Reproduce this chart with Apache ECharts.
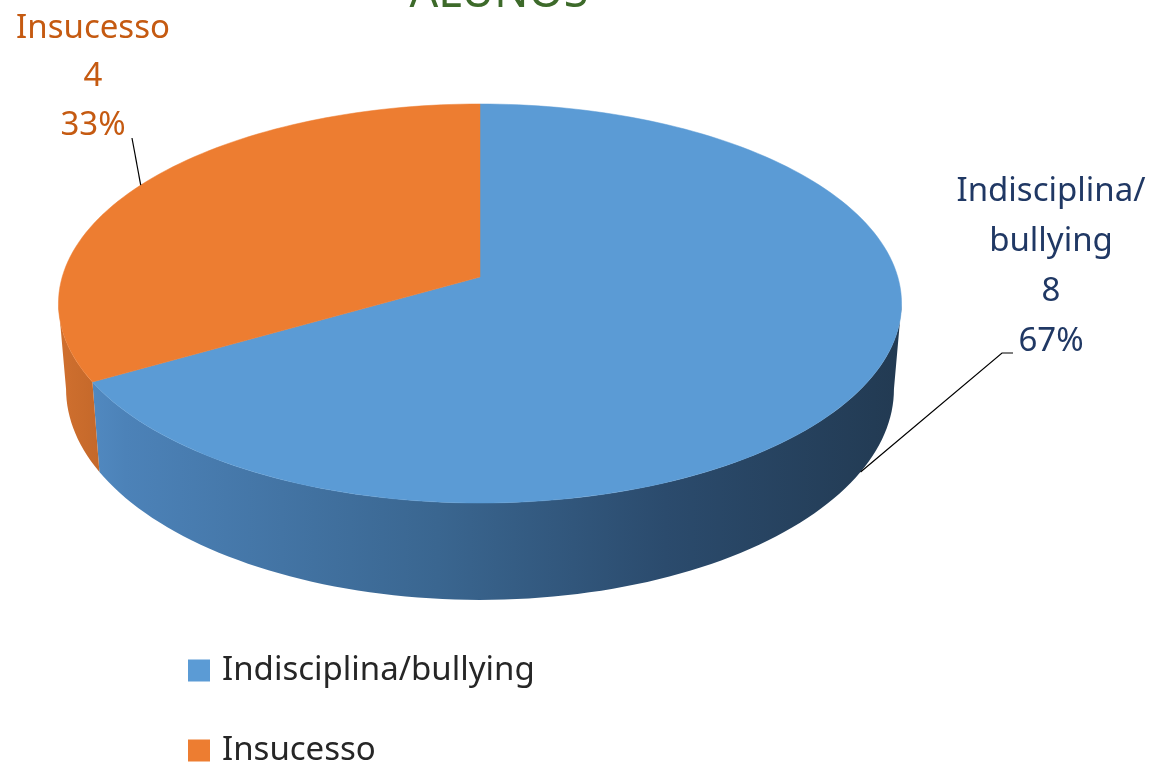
<!DOCTYPE html>
<html>
<head>
<meta charset="utf-8">
<script src="https://cdn.jsdelivr.net/npm/echarts@6/dist/echarts.min.js"></script>
<style>html,body{margin:0;padding:0;background:#fff}#chart{width:1156px;height:764px}</style>
</head>
<body>
<div id="chart"></div>
<script>
// ---- data ----
const categories = ['Indisciplina/bullying', 'Insucesso'];
const values = [8, 4];
const labelNames = ['Indisciplina/\nbullying', 'Insucesso'];
const titleText = 'ALUNOS';

// ---- style / layout ----
const topColors = ['#5B9BD5', '#ED7D31'];
const labelColors = ['#203864', '#C55A11'];
const FONT = '"Noto Sans", sans-serif';
// perspective pie: centre, horizontal/vertical radius, perspective factor, wall height
const geo = { cx: 480, cy: 277, A: 417.8, B: 196, p: 0.1328, depth: 84, bottomScale: 0.982, startAngle: 90 };
const labelLayout = [
  { x: 1051, y: 167, lh: 50, elbow: [[1013, 353], [1002, 353]], onBottom: true },
  { x: 93, y: 4, lh: 48.5, elbow: [[132, 138]], onBottom: false }
];
const sideFills = [
  { type: 'linear', global: true, x: 58, y: 0, x2: 901, y2: 0,
    colorStops: [
      { offset: 0, color: '#5690c8' }, { offset: 0.08, color: '#4c82b8' },
      { offset: 0.45, color: '#3a6690' }, { offset: 0.72, color: '#2b4b6d' },
      { offset: 1, color: '#223a52' } ] },
  { type: 'linear', global: true, x: 58, y: 0, x2: 100, y2: 0,
    colorStops: [ { offset: 0, color: '#d0702f' }, { offset: 1, color: '#c4682a' } ] }
];

const total = values.reduce((a, b) => a + b, 0);
function pt(deg, bottom) {
  const r = deg * Math.PI / 180;
  const X = Math.cos(r), Z = Math.sin(r);
  const w = 1 + geo.p * Z;
  let x = geo.cx + geo.A * X / w;
  let y = geo.cy - geo.B * Z / w;
  if (bottom) { x = geo.cx + (x - geo.cx) * geo.bottomScale; y += geo.depth / w; }
  return [x, y];
}
function arc(a0, a1, bottom) {
  const n = Math.max(2, Math.ceil(Math.abs(a1 - a0) / 1.5));
  const out = [];
  for (let k = 0; k <= n; k++) out.push(pt(a0 + (a1 - a0) * k / n, bottom));
  return out;
}
function sliceAngles(i) {
  let cum = 0;
  for (let k = 0; k < i; k++) cum += values[k];
  const a0 = geo.startAngle - 360 * cum / total;
  const a1 = geo.startAngle - 360 * (cum + values[i]) / total;
  return [a1, a0]; // lo, hi
}
const alpha = Math.asin(geo.p) * 180 / Math.PI;

function renderSlice(i) {
  const [lo, hi] = sliceAngles(i);
  const children = [];
  // visible wall (front part of the rim)
  for (let k = -2; k <= 1; k++) {
    const fLo = -180 + alpha + 360 * k, fHi = -alpha + 360 * k;
    const s = Math.max(lo, fLo), e = Math.min(hi, fHi);
    if (e > s) {
      const topArc = arc(s, e, false);
      const botArc = arc(e, s, true);
      children.push({ type: 'polygon', z2: 1, shape: { points: topArc.concat(botArc) },
        style: { fill: sideFills[i], stroke: null } });
    }
  }
  // top face
  const topPts = [[geo.cx, geo.cy]].concat(arc(hi, lo, false));
  children.push({ type: 'polygon', z2: 2, shape: { points: topPts },
    style: { fill: topColors[i], stroke: topColors[i], lineWidth: 0.5 } });
  // label + leader line
  const mid = (lo + hi) / 2;
  const L = labelLayout[i];
  const anchor = pt(mid, L.onBottom);
  children.push({ type: 'polyline', z2: 3, shape: { points: L.elbow.concat([anchor]) },
    style: { stroke: '#000', lineWidth: 1.2, fill: null } });
  const pct = Math.round(values[i] / total * 100);
  children.push({ type: 'text', z2: 3, x: L.x, y: L.y,
    style: { text: labelNames[i] + '\n' + values[i] + '\n' + pct + '%',
      fill: labelColors[i], font: '33px ' + FONT, lineHeight: L.lh,
      align: 'center', verticalAlign: 'top' } });
  return { type: 'group', children };
}

const chart = echarts.init(document.getElementById('chart'));
chart.setOption({
  animation: false,
  backgroundColor: '#fff',
  graphic: [{ type: 'text', x: 499, y: -6,
    style: { text: titleText, fill: '#3d6a2a', font: '45px ' + FONT, align: 'center', verticalAlign: 'middle' } }],
  legend: {
    orient: 'vertical', left: 188, top: 654, height: 200, padding: 0, itemWidth: 22, itemHeight: 22, itemGap: 47,
    icon: 'rect', data: categories,
    textStyle: { fontFamily: FONT, fontSize: 33, lineHeight: 30, color: '#262626', padding: [0, 0, 0, 7] }
  },
  series: categories.map((name, i) => ({
    type: 'custom', name, coordinateSystem: 'none',
    itemStyle: { color: topColors[i] },
    data: [[i]],
    renderItem: () => renderSlice(i)
  }))
});
</script>
</body>
</html>
